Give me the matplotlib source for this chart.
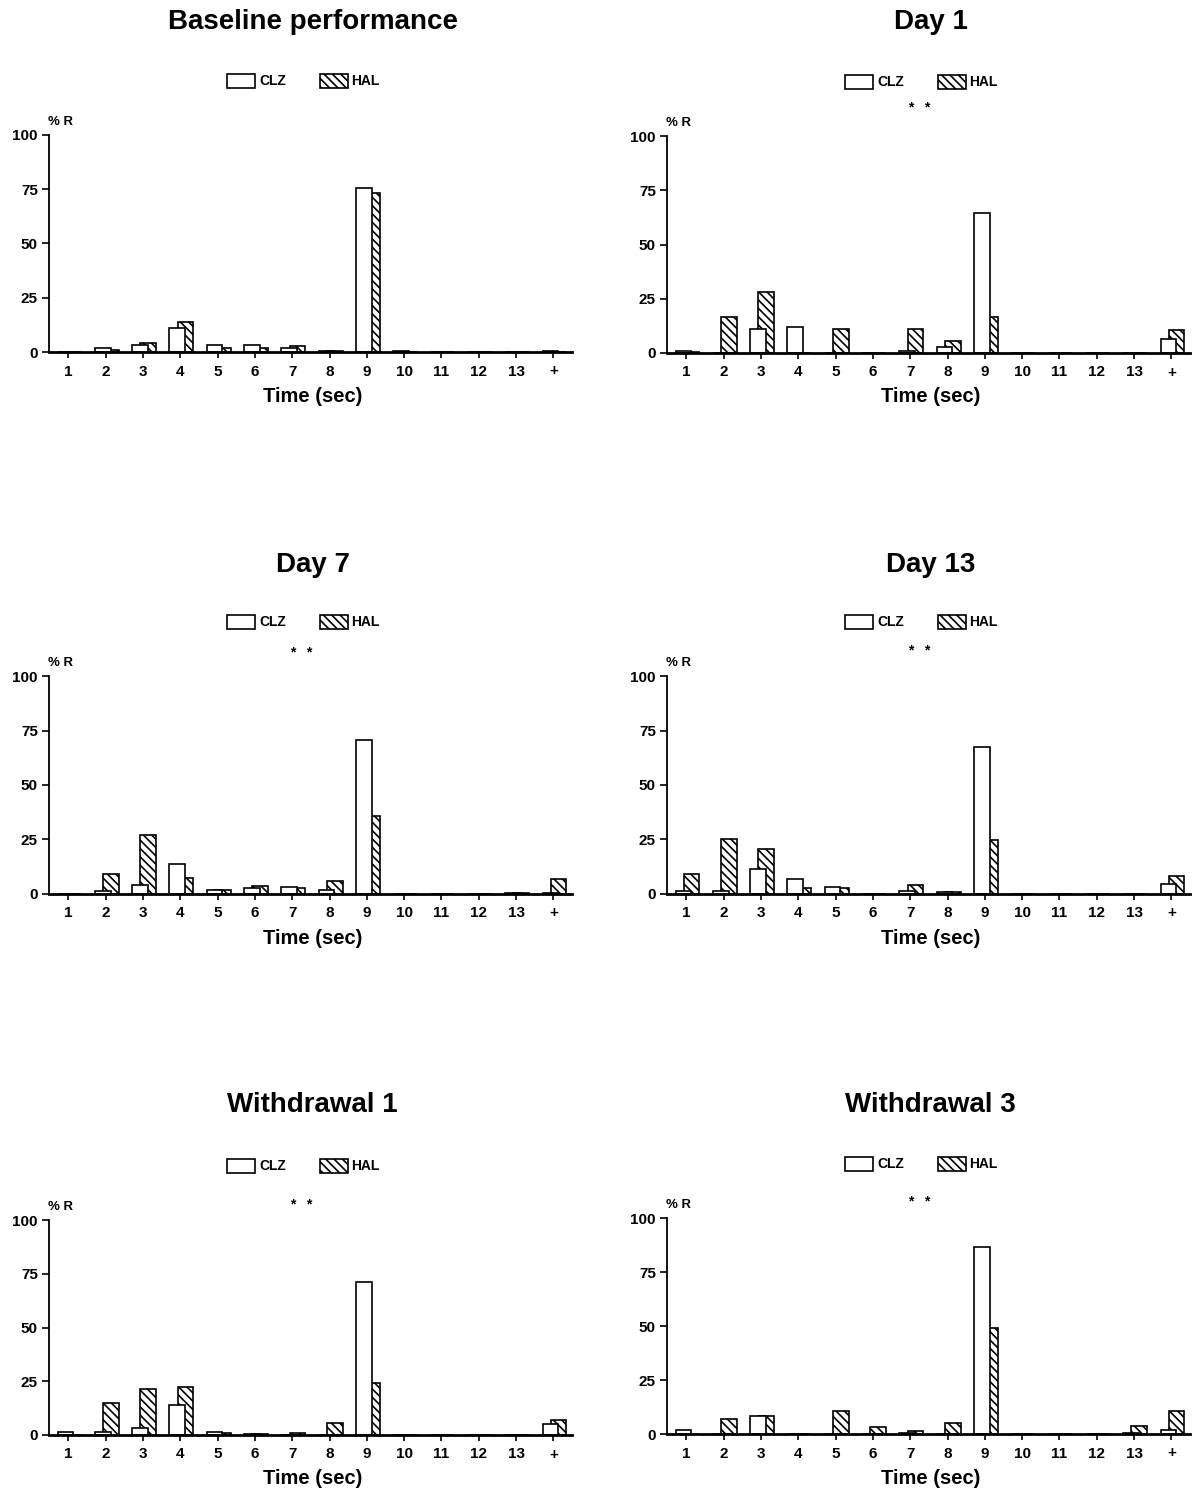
import numpy as np
import matplotlib
matplotlib.use('Agg')
import matplotlib.pyplot as plt
from matplotlib.patches import Rectangle

# categories on the x axis (time bins, last one is "+")
categories = ['1', '2', '3', '4', '5', '6', '7', '8', '9', '10', '11', '12', '13', '+']

titles = ['Baseline performance', 'Day 1', 'Day 7', 'Day 13', 'Withdrawal 1', 'Withdrawal 3']

# % responses
clz_baseline = [0, 2, 3, 11, 3, 3, 1.8, 0.3, 75.5, 0.3, 0.2, 0.2, 0, 0.3]
hal_baseline = [0, 1, 4, 14, 1.8, 1.8, 2.9, 0.3, 73.5, 0, 0, 0, 0, 0]

clz_day1 = [1.1, 0.2, 10.9, 12.2, 0.2, 0, 1, 2.6, 64.5, 0, 0, 0, 0, 6.3]
hal_day1 = [0.6, 16.8, 28.3, 0, 10.9, 0, 10.9, 5.5, 16.6, 0, 0, 0, 0, 10.5]

clz_day7 = [0, 1.5, 4.1, 13.8, 1.7, 2.9, 3.2, 1.8, 70.5, 0, 0, 0, 0.3, 0.3]
hal_day7 = [0, 9.2, 26.9, 7.3, 1.7, 3.7, 2.6, 5.8, 35.8, 0, 0, 0, 0.6, 6.7]

clz_day13 = [1.2, 1.4, 11.5, 6.7, 3.2, 0, 1.4, 1, 67.6, 0, 0, 0, 0, 4.8]
hal_day13 = [9.4, 25, 20.7, 2.6, 2.6, 0, 4, 1, 24.8, 0, 0, 0, 0, 8.3]

clz_wd1 = [1.6, 1.4, 3.3, 14, 1.6, 0.3, 0.2, 0, 71.2, 0, 0, 0, 0, 5.3]
hal_wd1 = [0, 14.7, 21.2, 22.5, 0.9, 0.6, 0.9, 5.6, 24.3, 0, 0, 0, 0, 7]

clz_wd3 = [2, 0, 8.5, 0.2, 0.2, 0, 0.3, 0, 86.6, 0.2, 0, 0, 0.3, 2]
hal_wd3 = [0, 6.9, 8.5, 0, 10.5, 3.4, 1.5, 5.2, 49, 0, 0, 0, 3.5, 10.5]

clz_all = [clz_baseline, clz_day1, clz_day7, clz_day13, clz_wd1, clz_wd3]
hal_all = [hal_baseline, hal_day1, hal_day7, hal_day13, hal_wd1, hal_wd3]

# layout in pixels: left, right, top (y=100), bottom (y=0), height of "* *" above axis (px) or None
W, H = 1193, 1492
layout = [
    (49, 572, 135, 352, None),
    (667, 1190, 136, 353, 28),
    (49, 572, 676, 894, 23),
    (667, 1190, 676, 894, 25),
    (49, 572, 1220, 1435, 15),
    (667, 1190, 1218, 1434, 16),
]
title_y = [22, 22, 565, 565, 1105, 1105]

plt.rcParams['font.family'] = ['Liberation Sans', 'DejaVu Sans']
plt.rcParams['font.weight'] = 'bold'
plt.rcParams['hatch.linewidth'] = 1.2

HATCH = '\\\\\\\\'


def fx(x):
    return x / W


def fy(y):
    return 1 - y / H


fig = plt.figure(figsize=(W / 100, H / 100), dpi=100)

x = np.arange(1, len(categories) + 1)

for i in range(6):
    left, right, top, bottom, star_px = layout[i]
    ax = fig.add_axes([fx(left), fy(bottom), (right - left) / W, (bottom - top) / H])
    ax.set_xlim(0.48, 14.5)
    ax.set_ylim(0, 100)

    # HAL behind, shifted right; CLZ in front
    ax.bar(x + 0.14, hal_all[i], width=0.42, facecolor='white', edgecolor='black',
           hatch=HATCH, linewidth=1.2, zorder=2)
    ax.bar(x - 0.08, clz_all[i], width=0.42, facecolor='white', edgecolor='black',
           linewidth=1.2, zorder=3)

    for s in ['top', 'right']:
        ax.spines[s].set_visible(False)
    ax.spines['bottom'].set_linewidth(2)
    ax.spines['left'].set_linewidth(1.3)
    ax.spines['bottom'].set_zorder(4)

    ax.set_xticks(x, categories)
    ax.set_yticks([0, 25, 50, 75, 100])
    ax.tick_params(axis='x', length=4, width=1.2, pad=5, labelsize=11)
    ax.tick_params(axis='y', length=5, width=1.2, pad=3, labelsize=11)
    for lab in ax.get_xticklabels() + ax.get_yticklabels():
        lab.set_fontweight('bold')

    cx = (left + right) / 2
    fig.text(fx(cx + 2), fy(title_y[i]), titles[i], ha='center', va='center',
             fontsize=20, fontweight='bold')
    fig.text(fx(cx + 2), fy(bottom + 44), 'Time (sec)', ha='center', va='center',
             fontsize=14.5, fontweight='bold')
    fig.text(fx(left - 1), fy(top - 13), '% R', ha='left', va='center',
             fontsize=9.5, fontweight='bold')

    if star_px is not None:
        ax.text(7.25, 100 + star_px * 100 / (bottom - top), '*   *', ha='center', va='center',
                fontsize=10, fontweight='bold', clip_on=False)

    # legend boxes above the axes
    ly = top - 54
    lx = cx - 84
    fig.patches.append(Rectangle((fx(lx), fy(ly + 7)), 28 / W, 14 / H, transform=fig.transFigure,
                                 facecolor='white', edgecolor='black', linewidth=1.2))
    fig.text(fx(lx + 33), fy(ly), 'CLZ', ha='left', va='center', fontsize=10, fontweight='bold')
    fig.patches.append(Rectangle((fx(lx + 93), fy(ly + 7)), 28 / W, 14 / H, transform=fig.transFigure,
                                 facecolor='white', edgecolor='black', linewidth=1.2, hatch=HATCH))
    fig.text(fx(lx + 125), fy(ly), 'HAL', ha='left', va='center', fontsize=10, fontweight='bold')

fig.savefig('out.png', dpi=100)
